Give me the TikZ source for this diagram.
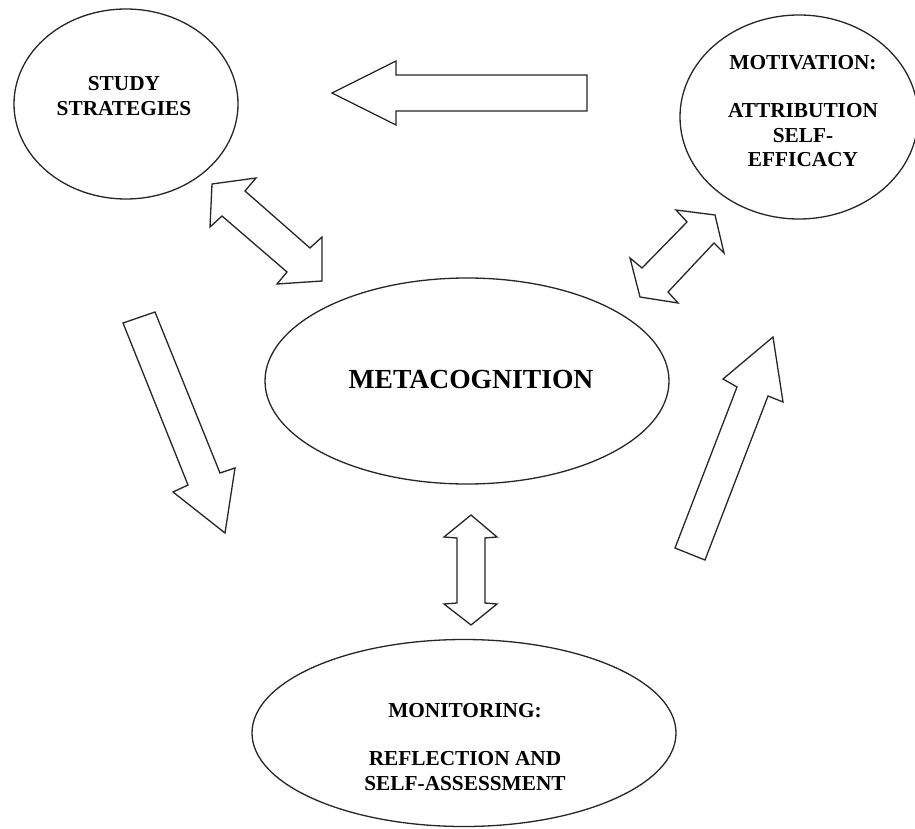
\documentclass[tikz,border=0pt]{standalone}
\usepackage{fontspec}
\setmainfont{Liberation Serif}
\usetikzlibrary{shapes.geometric}
\begin{document}
\begin{tikzpicture}[x=1pt,y=-1pt,
  outline/.style={draw=black!85, line width=1.3pt},
  bubble/.style={outline, ellipse, inner sep=0pt, outer sep=0pt},
  txt/.style={align=center, font=\bfseries\fontsize{21.3}{24.5}\selectfont, inner sep=0pt, text=black},
  bigtxt/.style={txt, font=\bfseries\fontsize{27.6}{30}\selectfont},
  blockarrow/.style={outline, line join=miter, fill=white}]
\useasboundingbox[fill=white] (0,0) rectangle (915,829);

% ellipses
\node[bubble, minimum width=224pt, minimum height=190pt] (study) at (126,104) {};
\node[bubble, minimum width=238pt, minimum height=204pt] (motiv) at (799,117) {};
\node[bubble, minimum width=404pt, minimum height=206pt] (meta) at (467,381) {};
\node[bubble, minimum width=424pt, minimum height=187pt] (monit) at (464,733) {};

% texts
\node[txt] (studyT) at (124,96) {STUDY\\STRATEGIES};
\node[txt] (motivT) at (803,111) {MOTIVATION:\\[24pt]ATTRIBUTION\\SELF-\\EFFICACY};
\node[bigtxt] (metaT) at (471,379) {METACOGNITION};
\node[txt] (monitT) at (465,747) {MONITORING:\\[24pt]REFLECTION AND\\SELF-ASSESSMENT};

% block arrows
\draw[blockarrow] (587,75) -- (396,75) -- (396,61) -- (332,93) -- (396,125) -- (396,111) -- (587,111) -- cycle;
\draw[blockarrow] (256,178) -- (212,184) -- (210,227) -- (222,216) -- (287,272) -- (277,284) -- (322,281) -- (322,237) -- (310,248) -- (245,191) -- cycle;
\draw[blockarrow] (676,210) -- (715,215) -- (724,253) -- (714,243) -- (668,292) -- (678,303) -- (640,297) -- (630,258) -- (642,268) -- (687,222) -- cycle;
\draw[blockarrow] (123,323) -- (155,312) -- (220,473) -- (235,468) -- (225,533) -- (173,492) -- (188,485) -- cycle;
\draw[blockarrow] (675,548) -- (705,560) -- (768,396) -- (783,402) -- (773,337) -- (723,379) -- (737,387) -- cycle;
\draw[blockarrow] (471,515) -- (497,537) -- (485,538) -- (485,603) -- (497,604) -- (471,625) -- (444,604) -- (457,603) -- (457,538) -- (444,537) -- cycle;
\end{tikzpicture}
\end{document}
